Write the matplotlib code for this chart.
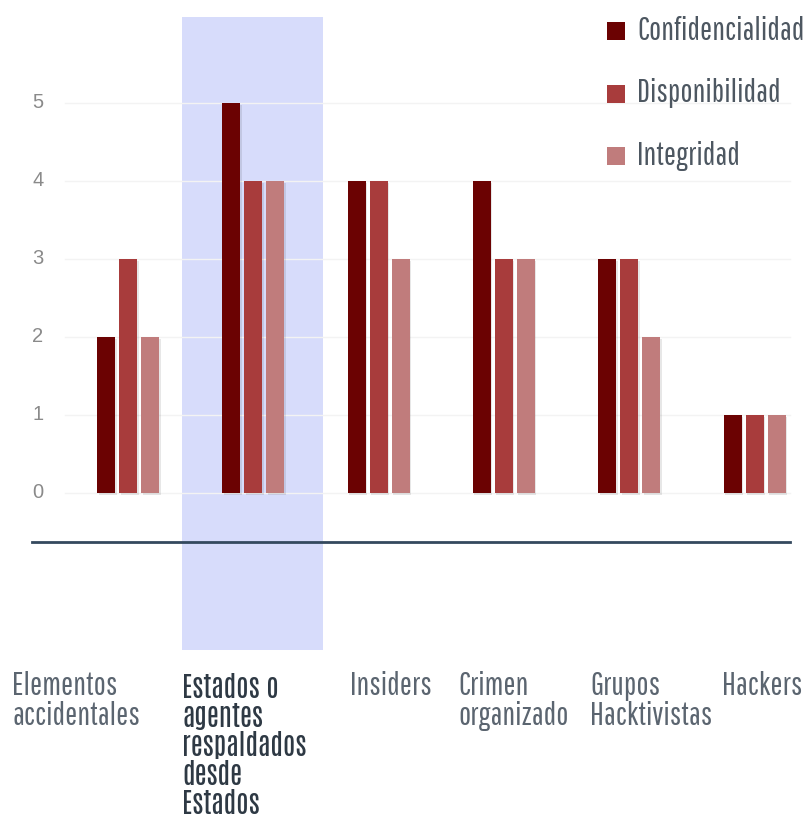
import matplotlib
matplotlib.use('Agg')
import matplotlib.pyplot as plt
from matplotlib.patches import Rectangle
import numpy as np

categorias = ['Elementos\naccidentales',
              'Estados o\nagentes\nrespaldados\ndesde\nEstados',
              'Insiders',
              'Crimen\norganizado',
              'Grupos\nHacktivistas',
              'Hackers']
confidencialidad = [2, 5, 4, 4, 3, 1]
disponibilidad = [3, 4, 4, 3, 3, 1]
integridad = [2, 4, 3, 3, 2, 1]
series = ['Confidencialidad', 'Disponibilidad', 'Integridad']
colores = ['#6b0202', '#a83c3c', '#c07c7c']
yticks = [0, 1, 2, 3, 4, 5]

cond = ['Pathway Gothic One', 'Roboto Condensed', 'DejaVu Sans']
cond_bold = ['Antonio', 'Oswald', 'Roboto Condensed', 'DejaVu Sans']

W, H = 805, 819
fig = plt.figure(figsize=(W / 100, H / 100), dpi=100)
ax = fig.add_axes([0, 0, 1, 1])

# pixel layout -> data units: 125.3 px per group, 78 px per unit value
gx0, gdx = 128, 125.3
y0, dy = 493, 78
ax.set_xlim(-gx0 / gdx, (W - gx0) / gdx)
ax.set_ylim(-(H - y0) / dy, y0 / dy)
ax.axis('off')

def px(x):
    return (x - gx0) / gdx

def py(y):
    return (y0 - y) / dy

# highlighted category
ax.add_patch(Rectangle((px(182), py(650)), px(323) - px(182), py(17) - py(650),
                       color='#d7dcfb', zorder=0, lw=0))

# faint gridlines and y tick labels
for t in yticks:
    ax.plot([px(65), px(790)], [t, t], color='#f3f3f3', lw=1, zorder=1)
    ax.text(px(38), t, str(t), ha='center', va='center', fontsize=14.5,
            color='#8a8a8a', family='Liberation Sans')

x = np.arange(len(categorias))
off = 22 / gdx
w = 18 / gdx
for i, (vals, c) in enumerate(zip([confidencialidad, disponibilidad, integridad], colores)):
    xs = x + (i - 1) * off
    # soft shadow
    ax.bar(xs + 1.5 / gdx, vals, width=w, bottom=-1.5 / dy, color='#00000018', zorder=2, lw=0)
    ax.bar(xs, vals, width=w, color=c, zorder=3, lw=0)

# baseline under the bars
ax.plot([px(32), px(790)], [py(542), py(542)], color='#34495e', lw=2, zorder=4)

# category labels
label_x = [12, 182, 350, 458, 590, 722]
for i, (lab, lx) in enumerate(zip(categorias, label_x)):
    bold = i == 1
    ax.text(px(lx), py(673 if bold else 671), lab, ha='left', va='top',
            fontsize=20 if bold else 23,
            family=cond_bold if bold else cond,
            linespacing=1.04 if bold else 1.0,
            color='#2e3944' if bold else '#5b6570',
            fontweight='heavy' if bold else 'normal')

# legend
for i, (s, c) in enumerate(zip(series, colores)):
    yc = 31 + i * 62.5
    ax.add_patch(Rectangle((px(607), py(yc + 9)), px(625) - px(607), 18 / dy,
                           color=c, lw=0, zorder=3))
    ax.text(px(637), py(yc), s, ha='left', va='center', fontsize=23,
            family=cond, color='#4d5761')

fig.savefig('out.png', dpi=100)
